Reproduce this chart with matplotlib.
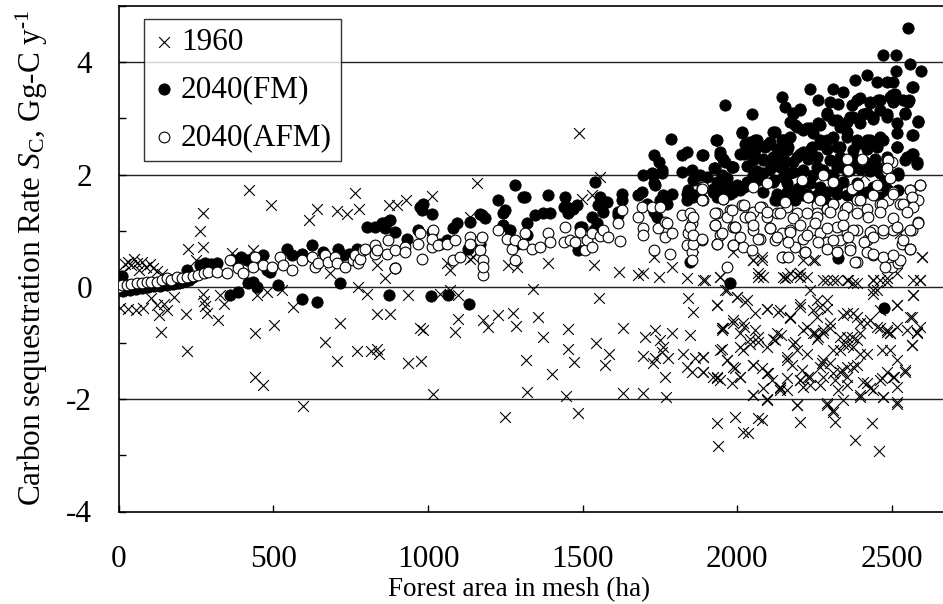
import matplotlib
matplotlib.use("Agg")
import matplotlib.pyplot as plt
from matplotlib.ticker import MultipleLocator

# ---------------- data ----------------
x1960 = [0, 8, 12, 20, 30, 40, 48, 58, 65, 75, 88, 100, 112, 125, 140, 160, 5, 30, 55, 80,
         105, 123, 130, 148, 155, 136, 180, 218, 220, 225, 250, 263, 271, 271, 272, 276, 280, 285, 300, 322,
         328, 340, 365, 422, 435, 441, 446, 441, 468, 478, 492, 503, 527, 562, 595, 616, 640, 667, 683, 705,
         705, 716, 737, 764, 769, 775, 778, 802, 816, 834, 840, 834, 877, 834, 861, 875, 899, 929, 936, 936,
         976, 974, 985, 1013, 1017, 1040, 1060, 1070, 1070, 1087, 1098, 1098, 1136, 1136, 1146, 1157, 1179, 1193, 1227, 1249,
         1260, 1274, 1284, 1287, 1317, 1321, 1340, 1357, 1371, 1389, 1400, 1446, 1452, 1454, 1472, 1484, 1488, 1497, 1529, 1535,
         1543, 1553, 1556, 1572, 1586, 1619, 1631, 1631, 1680, 1696, 1696, 1702, 1729, 1734, 1750, 1761, 1755, 1788, 1748, 1788,
         1694, 1734, 1728, 1777, 1766, 1770, 1836, 1842, 1856, 1858, 1847, 1825, 1863, 1888, 1836, 1852, 1890, 1888, 1933, 1944,
         1950, 1950, 1966, 1933, 1944, 1922, 1933, 1939, 1966, 1998, 2073, 2160, 2192, 2224, 2278, 2310, 2354, 2375, 2440, 2483,
         2451, 2589, 2569, 2515, 2564, 2580, 2564, 2025, 2057, 2095, 2133, 2170, 2203, 1987, 2019, 1955, 2009, 2041, 2068, 2019,
         2116, 2140, 2186, 2213, 2246, 2257, 2278, 2300, 2246, 2267, 2289, 2257, 2343, 2375, 2397, 2429, 2461, 2483, 2494, 2515,
         2354, 2386, 2359, 2332, 2397, 1993, 2009, 1982, 2052, 2079, 2100, 2111, 2138, 2160, 2084, 2160, 2176, 2208, 2230, 2213,
         2203, 2267, 2300, 2278, 2267, 2316, 2337, 2354, 2375, 2327, 2354, 2397, 2418, 2440, 2461, 2483, 2505, 2515, 2542, 2052,
         2095, 2192, 2289, 2310, 2316, 2515, 2472, 1993, 2068, 2079, 2203, 2019, 2036, 2434, 2381, 2459, 2052, 2079, 2068, 2149,
         2203, 2246, 2440, 2461, 2596, 2591, 2526, 2408, 2489]
y1960 = [0.10, -0.05, 0.25, 0.40, 0.45, 0.38, 0.50, 0.42, 0.30, 0.45, 0.35, 0.40, 0.33, 0.28, 0.22, 0.12, -0.38, -0.40, -0.42, -0.38,
         -0.20, -0.33, -0.50, -0.30, -0.42, -0.80, -0.18, -0.49, -1.15, 0.67, 0.47, 0.99, 1.32, 0.71, -0.12, -0.25, -0.35, -0.47, 0.30, -0.59,
         -0.15, -0.30, 0.60, 1.73, 0.65, -0.83, -0.15, -1.60, -1.75, -0.10, 1.45, -0.68, -0.06, -0.36, -2.12, 1.19, 1.39, -0.98, 0.24, 1.35,
         -1.32, -0.65, 1.29, 1.67, -1.15, 0.00, 1.39, -0.12, -1.15, -1.10, -1.20, -0.49, -0.49, 0.39, 0.15, 1.45, 1.45, 1.54, -1.36, -0.15,
         -1.32, -0.74, -0.76, 1.61, -1.91, -0.12, 0.42, 0.30, -0.05, -0.80, -0.58, -0.15, 1.25, 0.50, 0.53, 1.85, -0.59, -0.72, -0.50, -2.31,
         0.39, -0.47, -0.70, 0.36, -1.30, -1.88, -0.03, -0.53, -0.89, 0.42, -1.56, -1.94, -1.10, -0.75, -1.33, -2.25, 2.73, 1.57, 1.63, 0.39,
         -1.00, -0.19, 1.96, -1.39, -1.20, 0.27, -0.74, -1.89, 0.21, 0.24, -1.89, -0.89, 0.53, -0.77, -0.95, -1.07, -1.16, -0.83, 0.18, 0.36,
         -1.23, -1.27, -1.35, -1.26, -1.60, -1.97, 0.15, -0.20, -0.44, 0.71, -0.86, -1.19, -1.27, -1.25, -1.42, -1.51, -1.51, 0.12, -0.33, 0.18,
         -0.76, -1.11, -1.30, -1.60, -1.66, -1.60, -2.42, -2.83, -0.06, -0.18, 0.21, 0.18, 0.21, 0.18, 0.12, 0.12, 0.12, 0.06, 0.12, 0.09,
         -0.06, 0.13, -0.15, -0.33, -0.53, -0.80, -1.04, -0.27, -0.47, -0.39, -0.45, -0.56, -0.30, -0.59, -0.65, -0.74, -0.83, -0.92, -0.98, -1.13,
         -0.92, -0.86, -0.98, -0.77, -0.83, -0.92, -0.83, -0.74, -0.41, -0.36, -0.39, -0.53, -0.50, -0.47, -0.65, -0.59, -0.74, -0.80, -0.83, -0.71,
         -0.89, -0.95, -1.04, -1.13, -1.19, -1.45, -1.60, -1.72, -1.39, -1.45, -1.54, -1.66, -1.78, -1.84, -1.81, -1.31, -1.39, -1.48, -1.60, -1.78,
         -1.66, -1.42, -1.36, -1.60, -1.75, -1.66, -1.48, -1.60, -1.42, -1.84, -1.75, -1.96, -1.72, -1.84, -1.66, -1.51, -1.60, -1.78, -1.48, -1.93,
         -1.99, -2.10, -2.10, -2.22, -2.40, -2.08, -1.96, -2.31, -2.34, -2.37, -2.40, -2.58, -2.61, -2.43, -2.73, -2.92, 0.48, 0.53, 0.18, 0.18,
         0.18, 0.48, -0.06, 0.12, 0.53, 0.12, 0.95, 1.99, 1.96]
# extra 1960 points read in the dense right part
x1960_dense = [1987, 2052, 2079, 2068, 2084, 2154, 2170, 2203, 2213, 2251, 2289, 2321, 2359, 2386, 2440, 2483, 2515, 2569, 2596, 1944, 1896,
               1960, 1998, 2030, 1933, 2095, 2138, 2170, 2203, 2235, 2257, 2289, 2354, 2386, 2418, 2440, 2461, 2515, 2569, 2558, 2591,
               1949, 1987, 2020, 2057, 2068, 2122, 2127, 2181, 2224, 2251, 2262, 2278, 2300, 2332, 2370, 2397, 2451, 2483, 2494, 2547, 2580, 2564,
               1890, 1944, 2009, 2041, 2095, 2160, 2192, 2224, 2278, 2310, 2343, 2375, 2418, 2467, 2494, 2515,
               1890, 1933, 1966, 1987, 2009, 2052, 2095, 2138, 2160, 2203, 2235, 2273, 2310, 2332, 2354, 2386, 2407, 2429, 2467, 2504, 2542,
               2052, 2095, 2138, 2192, 2235, 2289, 2310, 2343, 2397, 2472, 2515]
y1960_dense = [0.62, 0.47, 0.47, 0.24, 0.18, 0.15, 0.24, 0.24, 0.47, 0.47, 0.12, 0.12, 0.12, 0.06, 0.12, 0.15, 0.24, 0.12, 0.53, 0.18, 0.12,
               -0.06, -0.18, -0.24, -0.33, -0.39, -0.41, -0.53, -0.36, -0.06, -0.24, -0.24, -0.47, -0.53, -0.65, -0.12, -0.41, -0.33, -0.15, -0.53, -0.71,
               -0.74, -0.65, -0.71, -0.77, -0.89, -0.95, -0.83, -1.01, -0.71, -0.83, -0.89, -0.77, -0.65, -0.89, -0.89, -0.83, -0.71, -0.77, -0.83, -0.77, -0.83, -1.04,
               -1.25, -1.13, -1.07, -1.01, -1.07, -1.25, -1.13, -1.19, -1.30, -1.13, -1.01, -1.07, -1.19, -1.13, -1.13, -1.30,
               -1.51, -1.63, -1.30, -1.42, -1.60, -1.39, -1.54, -1.81, -1.63, -1.66, -1.60, -1.36, -1.54, -1.51, -1.42, -1.39, -1.69, -1.81, -1.63, -1.60, -1.51,
               -1.93, -2.02, -1.84, -2.10, -1.75, -2.07, -2.19, -2.02, -1.93, -1.96, -2.05]

xFM = [0, 5, 12, 15, 25, 35, 45, 55, 65, 75, 85, 95, 105, 115, 125, 135, 145, 155, 165, 175,
       185, 195, 205, 215, 220, 228, 240, 263, 279, 300, 317, 360, 387, 370, 395, 414, 419, 435, 446, 468,
       478, 489, 516, 543, 559, 592, 592, 624, 642, 662, 710, 716, 726, 745, 769, 802, 829, 850, 866, 877,
       861, 893, 875, 893, 931, 969, 974, 980, 985, 1012, 1012, 1010, 1039, 1060, 1063, 1082, 1093, 1134, 1136, 1130,
       1168, 1168, 1174, 1184, 1227, 1249, 1244, 1244, 1265, 1281, 1287, 1308, 1319, 1319, 1314, 1346, 1373, 1389, 1394, 1443,
       1448, 1470, 1481, 1454, 1438, 1486, 1497, 1529, 1545, 1535, 1491, 1540, 1556, 1578, 1567, 1551, 1626, 1626, 1615, 1615,
       1680, 1691, 1707, 1694, 1726, 1734, 1729, 1748, 1755, 1723, 1755, 1729, 1729, 1739, 1761, 1788, 1772, 1750, 1785, 1822,
       1836, 1887, 1820, 1852, 1879, 1858, 1836, 1863, 1836, 1842, 1858, 1847, 1931, 1944, 1923, 1949, 1944, 1966, 1922, 1933,
       1955, 1960, 1960, 1987, 2014, 2041, 2046, 1976, 2553, 2472, 2512, 2558, 2593, 2512, 2380, 2418, 2450, 2483, 2504, 2566,
       2235, 2262, 2143, 2154, 2310, 2343, 2300, 2327, 2386, 2429, 2456, 2494, 2510, 2556, 2203, 2181, 2542, 2585, 2566, 2566,
       2580, 2289, 2321, 2364, 2407, 2440, 2483, 2186, 2224, 2267, 2116, 2143, 2170, 2246, 2267, 2310, 2354, 2386, 2429, 2461,
       2515, 2515, 2025, 2057, 2095, 2127, 2165, 2213, 2240, 2289, 2332, 2375, 2418, 2450, 2009, 2052, 2084, 2116, 2149, 2192,
       2230, 2257, 2300, 2332, 2375, 2413, 2445, 2483, 2542, 1982, 2030, 2063, 2106, 2149, 2170, 2213, 2257, 2278, 2300, 2321,
       2354, 2397, 2429, 2461, 2521, 1966, 1998, 2030, 2068, 2116, 2160, 2203, 2235, 2267, 2316, 2343, 2386, 2440, 2472, 1976,
       2009, 2084, 2127, 2170, 2213, 2278, 2321, 2370, 2418, 2461, 2122, 2186, 2278, 2327, 2475]
yFM = [-0.05, 0.08, 0.20, -0.08, 0.00, -0.05, 0.02, -0.03, 0.01, -0.02, 0.02, 0.00, 0.03, 0.01, 0.04, 0.02, 0.05, 0.03, 0.06, 0.05,
       0.07, 0.06, 0.09, 0.10, 0.30, 0.13, 0.17, 0.39, 0.42, 0.40, 0.42, -0.15, -0.09, 0.48, 0.53, 0.47, 0.06, 0.09, 0.00, 0.56,
       0.30, 0.27, 0.03, 0.68, 0.56, 0.59, -0.21, 0.74, -0.27, 0.62, 0.68, 0.07, 0.56, 0.59, 0.68, 1.07, 1.07, 1.13, 1.16, 1.19,
       1.04, 0.98, -0.15, 0.33, 0.86, 1.01, 1.42, 1.36, 1.48, 1.30, 0.98, -0.17, 0.77, 0.83, -0.15, 1.04, 1.13, -0.30, 1.16, 0.68,
       1.30, 0.77, 1.28, 1.22, 1.54, 1.36, 1.31, 1.10, 1.01, 1.81, 0.77, 1.60, 0.92, 1.14, 1.60, 1.28, 1.31, 1.63, 1.31, 1.60,
       1.42, 1.39, 1.45, 1.31, 1.42, 0.65, 1.07, 1.25, 1.13, 1.01, 1.07, 1.86, 1.60, 1.51, 1.34, 1.45, 1.66, 1.54, 1.34, 1.28,
       1.63, 1.69, 1.48, 1.99, 1.99, 1.81, 2.34, 2.22, 2.08, 2.02, 2.02, 1.84, 1.34, 1.25, 1.63, 1.66, 1.48, 1.54, 2.64, 2.34,
       2.40, 2.34, 2.05, 2.08, 1.99, 1.90, 1.66, 1.63, 1.54, 1.72, 1.60, 0.45, 2.61, 2.34, 2.11, 1.99, 1.78, 1.93, 1.75, 1.60,
       1.90, 3.23, 2.22, 2.13, 2.73, 2.49, 3.08, 0.06, 4.60, 4.12, 4.12, 3.96, 3.85, 3.85, 3.68, 3.77, 3.65, 3.65, 3.65, 3.55,
       3.53, 3.33, 3.38, 3.20, 3.53, 3.47, 3.29, 3.26, 3.32, 3.29, 3.32, 3.38, 3.44, 3.32, 3.17, 3.08, 3.08, 2.94, 2.70, 2.37,
       2.19, 3.06, 2.97, 3.03, 3.08, 3.03, 3.08, 2.88, 2.82, 2.88, 2.76, 2.61, 2.67, 2.73, 2.61, 2.67, 2.76, 2.61, 2.61, 2.67,
       2.73, 2.49, 2.55, 2.61, 2.52, 2.46, 2.49, 2.40, 2.49, 2.46, 2.49, 2.43, 2.46, 2.49, 2.37, 2.34, 2.25, 2.31, 2.31, 2.31,
       2.28, 2.31, 2.25, 2.31, 2.31, 2.22, 2.28, 2.25, 2.25, 2.13, 2.16, 2.07, 2.10, 2.16, 2.02, 2.07, 2.13, 2.07, 1.99, 2.13,
       2.07, 2.10, 2.07, 2.02, 2.02, 1.84, 1.81, 1.87, 1.90, 1.87, 1.84, 1.78, 1.84, 1.78, 1.78, 1.87, 1.84, 1.78, 1.81, 1.66,
       1.72, 1.69, 1.60, 1.66, 1.63, 1.60, 1.66, 1.63, 1.69, 1.60, 1.54, 1.54, 1.51, 0.52, -0.38]
# extra FM points read in the dense right part
xFM_dense = [2499, 2504, 2537, 2553, 2569, 2397, 2429, 2461, 2370, 2181, 2203, 2170, 2192, 2213, 2235,
             2262, 2289, 2310, 2332, 2354, 2375, 2397, 2418, 2440, 2461, 2483, 2515, 2542, 2585,
             2569, 2515, 2547, 2569, 2580, 2521,
             1933, 1944, 1955, 1890, 1928, 1982, 2014, 2020, 2041, 2063, 2057, 2090, 2106, 2122, 2149, 2165, 2160,
             2052, 2084, 2116, 2138, 2181, 2203, 2235, 2267, 2289, 2321, 2354, 2386, 2418, 2440, 2472, 2483,
             1901, 1933, 1966, 1998, 2030, 2052, 2084, 2117, 2149, 2181, 2213, 2246, 2278, 2310, 2332, 2364, 2386, 2418, 2451, 2472,
             1922, 1955, 1987, 2020, 2127, 2160, 2192, 2224, 2257, 2289, 2321, 2354, 2386, 2483, 2521,
             2127, 2165, 2257, 2289, 2397]
yFM_dense = [3.41, 3.29, 3.32, 3.29, 3.56, 3.37, 3.27, 3.32, 3.23, 3.09, 3.14, 2.94, 2.85, 2.79, 2.82,
             2.91, 3.09, 2.97, 2.85, 2.94, 3.03, 2.91, 3.09, 2.99, 3.14, 3.03, 2.91, 3.10, 2.95,
             2.70, 2.49, 2.31, 2.37, 2.23, 1.99,
             2.61, 2.40, 2.28, 2.34, 2.11, 2.14, 2.76, 2.37, 2.58, 2.61, 2.43, 2.49, 2.58, 2.76, 2.61, 2.64, 2.43,
             2.26, 2.28, 2.26, 2.14, 2.23, 2.37, 2.43, 2.55, 2.61, 2.49, 2.67, 2.55, 2.61, 2.55, 2.61, 2.31,
             1.96, 1.87, 1.81, 1.78, 1.84, 1.99, 2.02, 1.90, 1.96, 2.05, 2.08, 1.99, 2.08, 1.99, 2.14, 2.08, 2.20, 2.14, 2.14, 1.99,
             1.69, 1.66, 1.69, 1.78, 1.66, 1.69, 1.75, 1.66, 1.63, 1.69, 1.78, 1.63, 1.69, 1.75, 1.72,
             1.54, 1.54, 1.54, 1.51, 1.60]

xAFM = [0, 10, 26, 40, 58, 75, 90, 105, 123, 140, 155, 170, 187, 205, 220, 240, 257, 275, 290, 317,
        349, 360, 387, 403, 440, 435, 467, 494, 521, 532, 559, 591, 624, 634, 645, 667, 678, 699, 705, 731,
        758, 764, 775, 780, 791, 796, 829, 829, 834, 866, 872, 893, 893, 926, 926, 974, 979, 969, 1017, 1012,
        1012, 1033, 1060, 1087, 1082, 1103, 1136, 1136, 1168, 1168, 1179, 1179, 1179, 1174, 1227, 1254, 1270, 1281, 1281, 1308,
        1314, 1335, 1362, 1389, 1394, 1438, 1443, 1459, 1475, 1491, 1508, 1513, 1529, 1529, 1556, 1567, 1583, 1615, 1621, 1626,
        1680, 1691, 1696, 1696, 1723, 1750, 1729, 1745, 1766, 1766, 1772, 1782, 1788, 1820, 1847, 1853, 1842, 1836, 1853, 1885,
        1858, 1847, 1858, 1858, 1852, 1887, 1885, 1933, 1928, 1944, 1933, 1955, 1966, 1976, 1987, 2014, 2030, 2052, 2079, 2354,
        2359, 2402, 2483, 2499, 2278, 2310, 2208, 2095, 2052, 2370, 2391, 2450, 2504, 2558, 2590, 1966, 2025, 1993, 2052, 2095,
        2127, 2160, 2192, 2230, 2257, 2257, 2289, 2310, 2348, 2386, 2418, 2461, 2488, 2526, 2564, 2585, 1949, 1987, 2019, 2073,
        2106, 2122, 2143, 2170, 2186, 2213, 2240, 2267, 2289, 2321, 2332, 2354, 2386, 2418, 2440, 2472, 2504, 2531, 2564, 2585,
        2149, 2219, 2321, 2364, 2386, 2440, 2472, 2499, 2558, 2520]
yAFM = [0.00, 0.03, 0.03, 0.05, 0.06, 0.07, 0.09, 0.08, 0.09, 0.12, 0.15, 0.13, 0.18, 0.16, 0.18, 0.20, 0.21, 0.24, 0.27, 0.27,
        0.24, 0.48, 0.33, 0.24, 0.53, 0.36, 0.39, 0.36, 0.53, 0.39, 0.30, 0.48, 0.53, 0.36, 0.42, 0.56, 0.44, 0.53, 0.42, 0.36,
        0.48, 0.56, 0.42, 0.50, 0.65, 0.68, 0.74, 0.59, 0.65, 0.59, 0.83, 0.33, 0.65, 0.71, 0.62, 0.95, 0.50, 0.77, 1.01, 0.71,
        0.86, 0.74, 0.77, 0.83, 0.47, 0.53, 0.89, 0.77, 0.83, 0.65, 0.48, 0.21, 0.36, 0.89, 1.01, 0.86, 0.68, 0.48, 0.83, 0.77,
        0.95, 0.68, 0.71, 0.95, 0.80, 0.80, 1.07, 0.83, 0.80, 0.98, 0.65, 0.83, 0.95, 0.71, 0.90, 1.01, 0.89, 1.13, 0.82, 1.36,
        1.25, 1.42, 1.04, 0.92, 1.42, 1.42, 0.65, 1.04, 0.89, 1.16, 1.13, 0.59, 0.95, 1.28, 1.31, 1.13, 0.95, 0.74, 0.62, 0.83,
        0.77, 1.07, 1.25, 0.92, 0.47, 1.78, 1.57, 1.31, 1.10, 0.92, 0.77, 1.57, 0.36, 1.36, 1.07, 1.45, 1.25, 1.01, 1.42, 2.25,
        2.07, 2.25, 2.07, 2.22, 1.99, 1.87, 1.90, 1.84, 1.78, 1.75, 1.81, 1.81, 1.69, 1.72, 1.81, 1.25, 1.25, 1.07, 1.34, 1.25,
        1.31, 1.42, 1.31, 1.60, 1.45, 1.31, 1.39, 1.48, 1.39, 1.54, 1.39, 1.48, 1.54, 1.48, 1.60, 1.54, 0.95, 0.74, 0.71, 0.86,
        1.04, 0.83, 0.95, 1.01, 0.71, 0.86, 1.01, 0.95, 0.80, 1.07, 0.83, 0.95, 1.01, 0.83, 1.01, 0.95, 1.01, 0.77, 1.01, 1.16,
        0.53, 0.62, 0.62, 0.71, 0.44, 0.56, 0.53, 0.36, 0.68, 0.42]
# extra AFM points read in the dense right part
xAFM_dense = [2354, 2402, 2359, 2488, 2483, 2494,
              2591, 2558, 2564, 2569, 2537, 2547, 2585, 2558, 2558, 2537, 2526, 2504, 2477,
              1890, 1890, 1955, 2020, 2073, 2154, 2230, 2267, 2310, 2354, 2397, 2440, 2467, 2504,
              1928, 1982, 2041, 2095, 2138, 2181, 2224, 2257, 2300, 2343, 2386, 2424, 2461, 2504,
              1928, 1993, 2052, 2106, 2170, 2203, 2251, 2289, 2343, 2375, 2429, 2472, 2515,
              1933, 2009, 2068, 2127, 2165, 2224, 2262, 2310, 2359, 2408, 2440,
              1987, 2046, 2143, 2165, 2219, 2289, 2364, 2418, 2440, 2381, 2321, 1885, 1885, 1885]
yAFM_dense = [2.27, 2.27, 2.08, 2.25, 2.11, 1.93,
              1.81, 1.72, 1.60, 1.42, 1.48, 1.34, 1.14, 1.01, 0.68, 0.83, 0.48, 0.56, 0.36,
              1.78, 1.54, 1.57, 1.45, 1.42, 1.51, 1.60, 1.54, 1.48, 1.42, 1.54, 1.63, 1.48, 1.66,
              1.31, 1.37, 1.25, 1.34, 1.31, 1.22, 1.31, 1.25, 1.34, 1.28, 1.31, 1.25, 1.34, 1.22,
              1.10, 1.07, 1.10, 1.04, 0.98, 1.10, 1.13, 1.04, 1.10, 1.01, 0.98, 1.01, 1.07,
              0.77, 0.89, 0.86, 0.89, 0.80, 0.92, 0.80, 0.83, 0.89, 0.80, 0.89,
              0.74, 0.65, 0.53, 0.53, 0.62, 0.68, 0.65, 0.62, 0.59, 0.45, 0.62, 1.75, 1.54, 0.86]

labels = ["1960", "2040(FM)", "2040(AFM)"]
x_ticks = [0, 500, 1000, 1500, 2000, 2500]
y_ticks = [-4, -2, 0, 2, 4]

# ---------------- style ----------------
plt.rcParams["font.family"] = ["Liberation Serif", "DejaVu Serif"]
plt.rcParams["mathtext.fontset"] = "custom"
plt.rcParams["mathtext.rm"] = "Liberation Serif"
plt.rcParams["mathtext.it"] = "Liberation Serif:italic"
plt.rcParams["axes.unicode_minus"] = False

W, H = 943, 604
fig = plt.figure(figsize=(W / 100, H / 100), dpi=100)
left_px, right_px, top_px, bot_px = 118.7, 943, 6, 511.5
ax = fig.add_axes([left_px / W, 1 - bot_px / H, (right_px - left_px) / W, (bot_px - top_px) / H])

px_per_unit = (892 - 118.7) / 2500
ax.set_xlim(0, (right_px - left_px) / px_per_unit)
ax.set_ylim(-4, 5)

ax.scatter(x1960 + x1960_dense, y1960 + y1960_dense, marker="x", s=60, c="black", linewidths=0.8,
           zorder=3, label=labels[0])
ax.scatter(xFM + xFM_dense, yFM + yFM_dense, marker="o", s=66, c="black", edgecolors="black",
           linewidths=0.6, zorder=4, label=labels[1])
ax.scatter(xAFM + xAFM_dense, yAFM + yAFM_dense, marker="o", s=60, facecolors="white",
           edgecolors="black", linewidths=0.8, zorder=5, label=labels[2])

for gy in [-2, 0, 2, 4]:
    ax.axhline(gy, color="#222222", lw=1.0, zorder=1)

ax.set_xticks(x_ticks)
ax.set_yticks(y_ticks)
ax.yaxis.set_minor_locator(MultipleLocator(1))
ax.tick_params(axis="both", which="both", direction="in", length=5, width=1.0, labelsize=22.5)
ax.tick_params(axis="x", pad=24)
ax.tick_params(axis="y", pad=19)

for sp in ["left", "bottom", "top"]:
    ax.spines[sp].set_linewidth(1.2)
    ax.spines[sp].set_color("black")
ax.spines["right"].set_visible(False)

fig.text(0.034, 0.574, r"Carbon sequestration Rate $S$$_{\mathrm{C}}$, Gg-C y$^{\text{-1}}$",
         rotation=90, ha="center", va="center", fontsize=22.5)
fig.text(519 / W, 1 - 590 / H, "Forest area in mesh (ha)", ha="center", va="center", fontsize=19.5)

leg = ax.legend(loc="upper left", bbox_to_anchor=(25.3 / (right_px - left_px), 1 - 13 / (bot_px - top_px)),
                borderaxespad=0, fontsize=22.5, frameon=True, fancybox=False, shadow=False,
                handletextpad=0.2, labelspacing=0.6, borderpad=0.28, handlelength=0.7, scatterpoints=1)
leg.get_frame().set_edgecolor("black")
leg.get_frame().set_linewidth(1.0)
leg.set_zorder(10)

fig.savefig("out.png", dpi=100)
